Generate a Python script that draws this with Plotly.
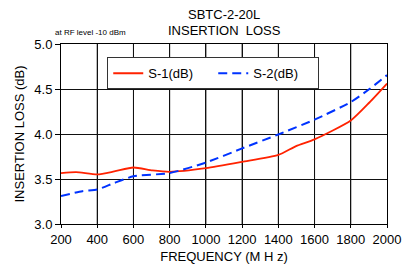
import plotly.graph_objects as go

freq_s1 = [200, 283, 400, 494, 600, 705, 800, 1000, 1200, 1400, 1498, 1600, 1800, 1903, 2000]
s1_db = [3.566, 3.577, 3.551, 3.584, 3.628, 3.595, 3.58, 3.62, 3.69, 3.767, 3.866, 3.94, 4.15, 4.35, 4.56]
freq_s2 = [200, 318, 400, 494, 600, 800, 1000, 1200, 1400, 1600, 1800, 1903, 2000]
s2_db = [3.31, 3.365, 3.383, 3.456, 3.53, 3.566, 3.683, 3.84, 3.995, 4.16, 4.355, 4.5, 4.654]

x_ticks = [200, 400, 600, 800, 1000, 1200, 1400, 1600, 1800, 2000]
y_ticks = [3.0, 3.5, 4.0, 4.5, 5.0]

FONT = "Liberation Sans, Arial, sans-serif"

fig = go.Figure()
fig.add_trace(go.Scatter(x=freq_s1, y=s1_db, mode="lines", name="S-1(dB)",
                         line=dict(color="#ff2200", width=1.8, shape="spline", smoothing=0.6)))
fig.add_trace(go.Scatter(x=freq_s2, y=s2_db, mode="lines", name="S-2(dB)",
                         line=dict(color="#0033ff", width=2, dash="9px,5px", shape="spline", smoothing=0.6)))

fig.update_layout(
    width=413, height=276,
    margin=dict(l=61, r=12, t=44, b=52),
    paper_bgcolor="white", plot_bgcolor="white",
    font=dict(family=FONT, size=13, color="black"),
    showlegend=True,
    legend=dict(orientation="h", x=0.467, xanchor="center", y=0.926, yanchor="top",
                bordercolor="#333333", borderwidth=1, bgcolor="white",
                font=dict(size=13), itemwidth=30, entrywidth=60, tracegroupgap=0),
    xaxis=dict(range=[200, 2000], tickmode="array", tickvals=x_ticks,
               ticktext=[str(v) for v in x_ticks], ticklabeloverflow="allow",
               showgrid=True, gridcolor="#111111", gridwidth=1,
               showline=True, linecolor="black", linewidth=1, mirror=True,
               ticks="outside", ticklen=3, tickcolor="black",
               title=dict(text="FREQUENCY (M H z)", font=dict(size=13), standoff=6),
               zeroline=False),
    yaxis=dict(range=[3.0, 5.0], tickmode="array", tickvals=y_ticks,
               ticktext=["%.1f" % v for v in y_ticks],
               showgrid=True, gridcolor="#111111", gridwidth=1,
               showline=True, linecolor="black", linewidth=1, mirror=True,
               ticks="outside", ticklen=5, tickcolor="black",
               title=dict(text="INSERTION LOSS (dB)", font=dict(size=13), standoff=6),
               zeroline=False),
)

# vertical grid lines at the x tick values (drawn as shapes, below traces)
for xv in x_ticks[1:-1]:
    fig.add_shape(type="line", xref="x", yref="paper", x0=xv, x1=xv, y0=0, y1=1,
                  line=dict(color="#111111", width=1), layer="below")

fig.add_annotation(text="SBTC-2-20L", xref="paper", yref="paper", x=0.5, y=1,
                   yshift=30, showarrow=False, font=dict(size=13), yanchor="middle")
fig.add_annotation(text="INSERTION  LOSS", xref="paper", yref="paper", x=0.5, y=1,
                   yshift=14, showarrow=False, font=dict(size=13), yanchor="middle")
fig.add_annotation(text="at RF level -10 dBm", xref="paper", yref="paper", x=0, y=1,
                   xshift=-8, yshift=12, xanchor="left", showarrow=False, font=dict(size=8),
                   yanchor="middle")

fig.write_html("out.html", config={"displayModeBar": False},
               post_script="document.body.style.margin='0';document.body.style.overflow='hidden';")
